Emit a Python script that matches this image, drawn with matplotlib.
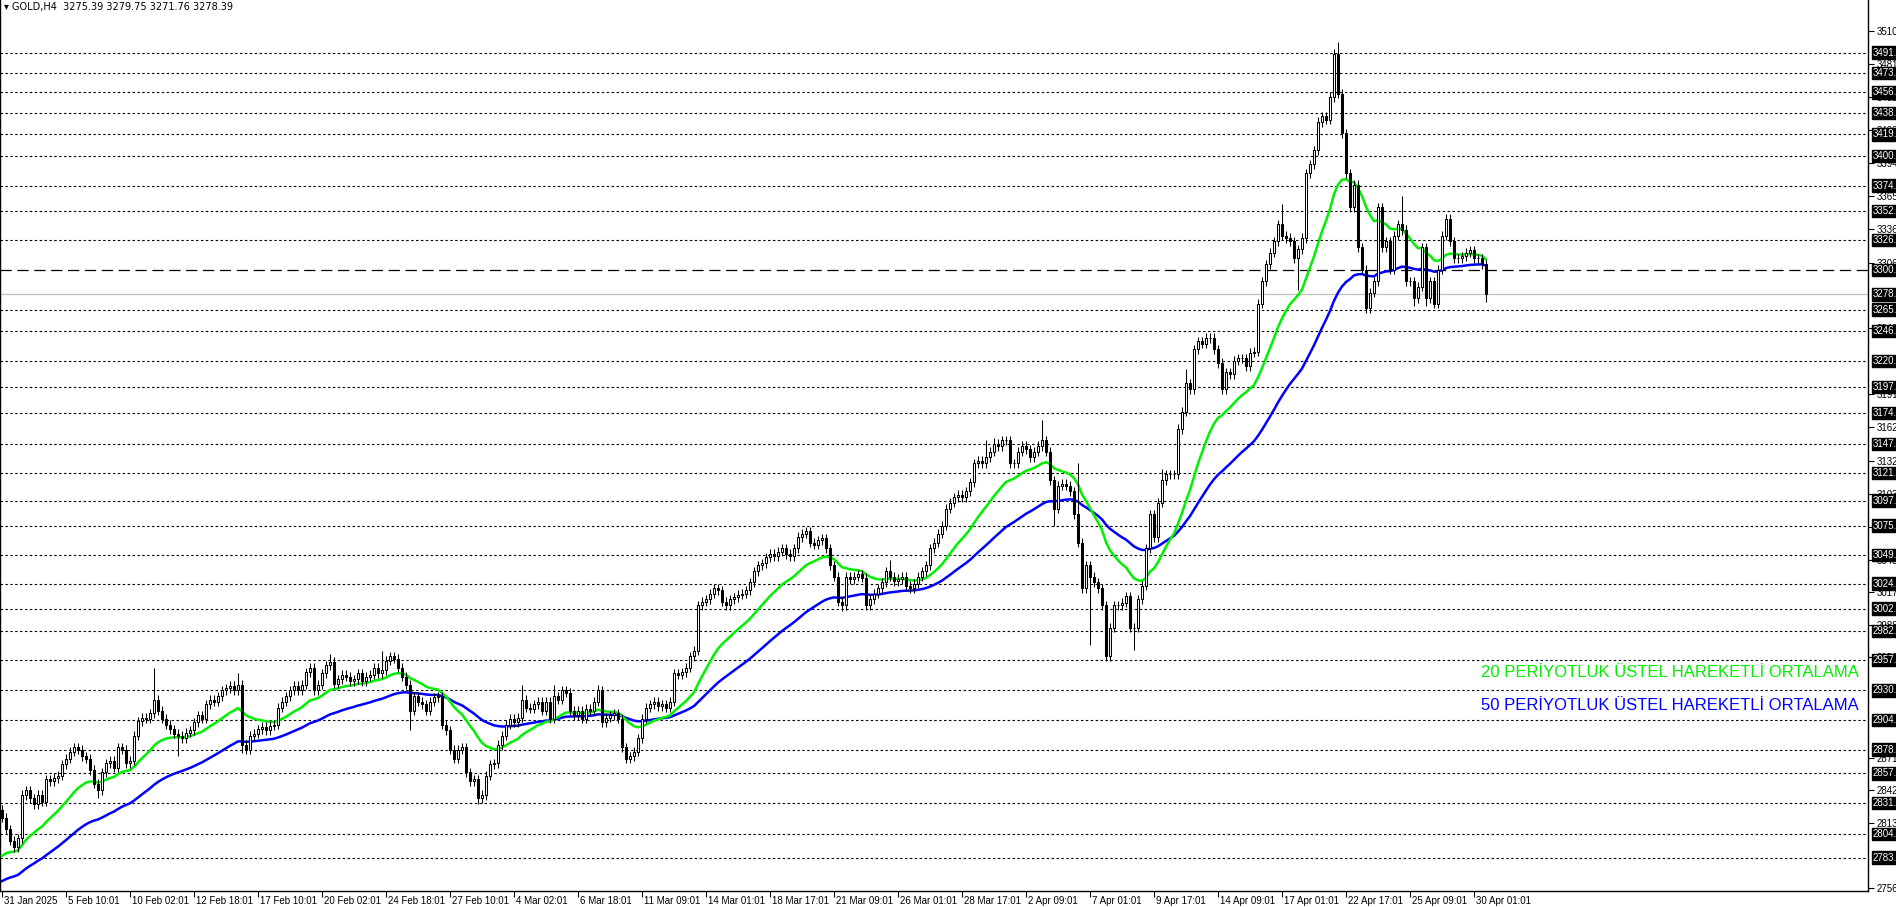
import matplotlib
matplotlib.use("Agg")
import matplotlib.pyplot as plt
import matplotlib.transforms as mtransforms
import numpy as np

# 4H closes (index 0 = 31 Jan 2025 01:01)
closes = [
    2818, 2808, 2798, 2792, 2800, 2838, 2842, 2835, 2830, 2838,
    2832, 2852, 2850, 2853, 2855, 2865, 2870, 2876, 2880, 2878,
    2872, 2870, 2860, 2848, 2842, 2858, 2866, 2868, 2862, 2880,
    2878, 2866, 2868, 2890, 2903, 2906, 2905, 2910, 2922, 2912,
    2905, 2900, 2896, 2892, 2890, 2888, 2893, 2895, 2902, 2908,
    2905, 2918, 2922, 2920, 2925, 2930, 2932, 2934, 2930, 2935,
    2882, 2878, 2890, 2892, 2896, 2898, 2895, 2899, 2900, 2915,
    2920, 2925, 2930, 2934, 2930, 2935, 2946, 2950, 2930, 2935,
    2945, 2952, 2955, 2936, 2940, 2944, 2942, 2938, 2940, 2945,
    2938, 2942, 2944, 2950, 2945, 2948, 2956, 2960, 2958, 2950,
    2942, 2935, 2912, 2925, 2920, 2918, 2912, 2920, 2924, 2925,
    2900, 2895, 2878, 2870, 2878, 2880, 2858, 2850, 2852, 2835,
    2838, 2855, 2865, 2866, 2882, 2890, 2900, 2905, 2902, 2906,
    2922, 2915, 2914, 2918, 2920, 2912, 2920, 2905, 2925, 2922,
    2930, 2928, 2912, 2908, 2912, 2905, 2914, 2912, 2920, 2930,
    2902, 2906, 2908, 2910, 2905, 2880, 2870, 2872, 2876, 2888,
    2905, 2915, 2918, 2920, 2916, 2918, 2915, 2920, 2945, 2944,
    2946, 2950, 2960, 2965, 3005, 3008, 3010, 3015, 3020, 3018,
    3008, 3005, 3010, 3012, 3014, 3015, 3018, 3025, 3035, 3040,
    3042, 3047, 3050, 3048, 3052, 3055, 3050, 3048, 3055, 3065,
    3068, 3070, 3060, 3058, 3062, 3064, 3055, 3040, 3030, 3008,
    3005, 3030, 3028, 3030, 3032, 3029, 3005, 3010, 3015, 3020,
    3025, 3035, 3030, 3026, 3028, 3030, 3022, 3020, 3024, 3030,
    3035, 3040, 3055, 3060, 3068, 3075, 3090, 3095, 3100, 3102,
    3100, 3105, 3113, 3130, 3132, 3130, 3135, 3140, 3147, 3145,
    3150, 3150, 3130, 3130, 3140, 3145, 3142, 3135, 3140, 3145,
    3150, 3140, 3115, 3090, 3110, 3112, 3110, 3105, 3085, 3060,
    3020, 3040, 3030, 3025, 3020, 3005, 2960, 2985, 3005, 3005,
    3007, 3013, 2985, 2985, 3010, 3022, 3055, 3085, 3065, 3095,
    3115, 3120, 3120, 3120, 3160, 3175, 3200, 3195, 3230, 3237,
    3235, 3240, 3240, 3230, 3218, 3195, 3210, 3208, 3220, 3222,
    3222, 3215, 3227, 3228, 3270, 3290, 3305, 3315, 3325, 3340,
    3330, 3328, 3325, 3310, 3318, 3328, 3385, 3393, 3405, 3430,
    3435, 3432, 3452, 3490, 3455, 3420, 3385, 3355, 3375, 3320,
    3300, 3266, 3280, 3290, 3355, 3320, 3325, 3300, 3330, 3340,
    3335, 3290, 3290, 3275, 3285, 3320, 3275, 3290, 3270, 3300,
    3330, 3345, 3325, 3310, 3310, 3312, 3315, 3317, 3310, 3310,
    3305, 3278.39,
]
first_open = 2825
# wick extremes that stand out
spike_highs = {38: 2950, 59: 2945, 82: 2962, 95: 2965, 130: 2935, 138: 2935,
               149: 2935, 173: 2968, 201: 3073, 222: 3045, 246: 3150, 248: 3152,
               260: 3168, 269: 3130, 290: 3125, 296: 3213, 320: 3358, 334: 3500,
               344: 3358, 350: 3365}
spike_lows = {24: 2835, 44: 2872, 60: 2875, 102: 2895, 119: 2830, 210: 3000,
              263: 3075, 272: 2970, 276: 2957, 283: 2966, 324: 3282, 341: 3262,
              353: 3268, 356: 3268, 371: 3271.76}

levels = [3491, 3473, 3456, 3438, 3419, 3400, 3374, 3352, 3326, 3265, 3246, 3220,
          3197, 3174, 3147, 3121, 3097, 3075, 3049, 3024, 3002, 2982, 2957, 2930,
          2904, 2878, 2857, 2831, 2804, 2783]
key_level = 3300
last_price = 3278.39
plain_ticks = [3510, 3481, 3452, 3423, 3394, 3365, 3336, 3306, 3249, 3191, 3162,
               3132, 3103, 3074, 3045, 3017, 2988, 2959, 2871, 2842, 2813, 2756]
date_labels = ["31 Jan 2025", "5 Feb 10:01", "10 Feb 02:01", "12 Feb 18:01",
               "17 Feb 10:01", "20 Feb 02:01", "24 Feb 18:01", "27 Feb 10:01",
               "4 Mar 02:01", "6 Mar 18:01", "11 Mar 09:01", "14 Mar 01:01",
               "18 Mar 17:01", "21 Mar 09:01", "26 Mar 01:01", "28 Mar 17:01",
               "2 Apr 09:01", "7 Apr 01:01", "9 Apr 17:01", "14 Apr 09:01",
               "17 Apr 01:01", "22 Apr 17:01", "25 Apr 09:01", "30 Apr 01:01"]


def ema(values, period, seed):
    k = 2.0 / (period + 1)
    out, prev = [], seed
    for v in values:
        prev = v * k + prev * (1 - k)
        out.append(prev)
    return out


c = np.array(closes, dtype=float)
o = np.concatenate([[first_open], c[:-1]])
hi = np.maximum(o, c) + 4
lo = np.minimum(o, c) - 4
for i, v in spike_highs.items():
    hi[i] = max(hi[i], v)
for i, v in spike_lows.items():
    lo[i] = min(lo[i], v)
idx = np.arange(len(c))

fig = plt.figure(figsize=(18.96, 9.07), dpi=100)
ax = fig.add_axes([0, 16 / 907, 1868 / 1896, 891 / 907])
ax.set_xlim(-0.5, 466.5)
ax.set_ylim(2753.6, 3537.3)

dot = (0, (2.2, 2.2))
for lv in levels:
    ax.axhline(lv, color="black", lw=0.8, ls=dot, zorder=1)
ax.axhline(key_level, color="black", lw=0.9, ls=(0, (9, 4.5)), zorder=1)
ax.axhline(last_price, color="#c0c0c0", lw=0.9, zorder=1)

ax.plot(idx, ema(c, 50, 2760), color="#0000ff", lw=1.8, zorder=3)
ax.plot(idx, ema(c, 20, 2781), color="#00f000", lw=1.8, zorder=3)

ax.vlines(idx, lo, hi, color="black", lw=0.75, zorder=4)
up = c >= o
ax.bar(idx[up], (c - o)[up], bottom=o[up], width=0.7, color="white",
       edgecolor="black", linewidth=0.75, zorder=5)
ax.bar(idx[~up], (o - c)[~up], bottom=c[~up], width=0.7, color="black",
       edgecolor="black", linewidth=0.75, zorder=5)

ax.spines["top"].set_visible(False)
for s in ["left", "right", "bottom"]:
    ax.spines[s].set_linewidth(1.0)

ax.yaxis.tick_right()
ax.set_yticks(plain_ticks)
ax.set_yticklabels([f"{t}." for t in plain_ticks], fontsize=7,
                   family="Liberation Sans")
ax.tick_params(axis="y", length=4, pad=2, direction="out")
tr = mtransforms.blended_transform_factory(ax.transAxes, ax.transData)
for lv in levels + [key_level, last_price]:
    ax.text(1.0025, lv, f"{int(lv)}.", transform=tr, fontsize=7, color="white",
            va="center", ha="left", clip_on=False, zorder=10,
            family="Liberation Sans",
            bbox=dict(boxstyle="square,pad=0.12", fc="black", ec="black"))

ax.set_xticks([16 * k for k in range(len(date_labels))])
ax.set_xticklabels([])
ax.tick_params(axis="x", length=4, direction="out")
trx = mtransforms.blended_transform_factory(ax.transData, fig.transFigure)
for k, lab in enumerate(date_labels):
    ax.text(16 * k + 0.6, 1 / 907, lab, transform=trx, fontsize=7,
            ha="left", va="bottom", clip_on=False, family="Liberation Sans")

ax.text(1859 / 1868, 2946, "20 PERİYOTLUK ÜSTEL HAREKETLİ ORTALAMA", transform=tr,
        fontsize=12, color="#00f000", ha="right", va="center",
        family="Liberation Sans")
ax.text(1859 / 1868, 2917, "50 PERİYOTLUK ÜSTEL HAREKETLİ ORTALAMA", transform=tr,
        fontsize=12, color="#0000ff", ha="right", va="center",
        family="Liberation Sans")

fig.text(4 / 1896, 1 - 7 / 907, "▾ GOLD,H4  3275.39 3279.75 3271.76 3278.39",
         fontsize=7, va="center", ha="left")

fig.savefig("out.png", dpi=100)
